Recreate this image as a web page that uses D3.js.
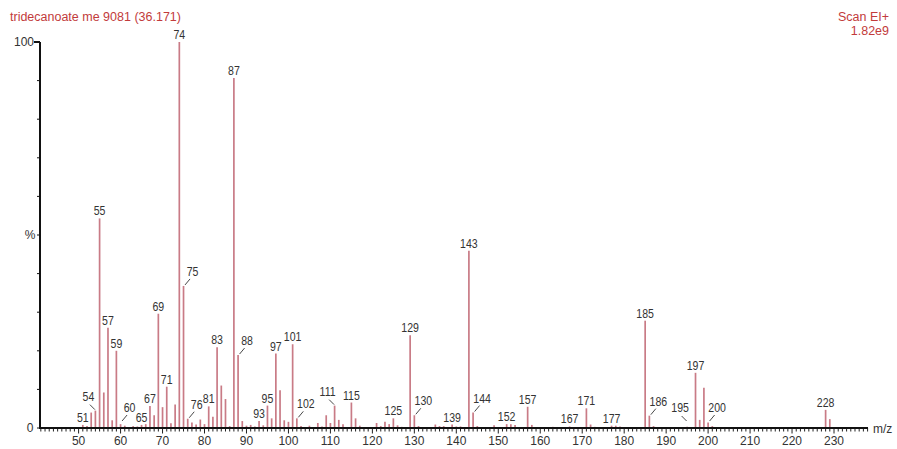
<!DOCTYPE html>
<html>
<head>
<meta charset="utf-8">
<script src="https://cdn.jsdelivr.net/npm/d3@7"></script>
<style>
  body { margin: 0; background: white; }
  svg { display: block; font-family: "Liberation Sans", Arial, sans-serif; }
</style>
</head>
<body>
<div id="chart"></div>
<script>
// spectrum: m/z and relative intensity (%)
const mz = [51, 52, 53, 54, 55, 56, 57, 58, 59, 60, 61, 63, 64, 65, 66, 67, 68, 69, 70, 71,
  72, 73, 74, 75, 76, 77, 78, 79, 80, 81, 82, 83, 84, 85, 86, 87, 88, 89, 90, 91,
  92, 93, 94, 95, 96, 97, 98, 99, 100, 101, 102, 103, 105, 107, 108, 109, 110, 111, 112, 113,
  115, 116, 117, 121, 122, 123, 124, 125, 126, 127, 129, 130, 131, 135, 136, 137, 139, 140, 141, 143,
  144, 145, 149, 152, 153, 154, 157, 158, 163, 167, 171, 172, 173, 177, 178, 179, 185, 186, 187, 195,
  197, 198, 199, 200, 201, 228, 229];
const intensity = [0.8, 0.5, 4.0, 4.5, 54.3, 9.2, 26.0, 2.0, 20.0, 1.0, 0.6, 0.5, 0.4, 0.8, 1.0, 5.7, 3.3, 29.6, 5.4, 10.7,
  1.2, 6.1, 100, 36.8, 2.4, 1.4, 0.9, 2.2, 1.0, 5.6, 2.9, 20.9, 11.0, 7.5, 0.5, 90.7, 18.9, 1.8, 0.6, 0.8,
  0.4, 1.8, 0.7, 5.8, 2.5, 19.3, 9.8, 2.0, 1.6, 21.7, 2.5, 0.5, 0.6, 1.3, 0.4, 3.3, 1.3, 5.8, 2.1, 1.0,
  6.6, 2.5, 0.6, 1.3, 0.5, 1.6, 1.0, 2.5, 0.7, 0.3, 24.0, 3.3, 0.5, 0.9, 0.5, 0.5, 0.9, 0.4, 0.4, 45.9,
  4.0, 0.5, 0.7, 1.0, 1.0, 0.8, 5.5, 0.8, 0.3, 0.4, 5.1, 0.9, 0.3, 0.6, 0.6, 0.4, 27.8, 3.2, 0.5, 0.3,
  14.3, 2.1, 10.4, 1.4, 0.5, 4.7, 2.3];

// peaks that carry a label, and which of them use a leader line
const labelled = [51, 54, 55, 57, 59, 60, 65, 67, 69, 71, 74, 75, 76, 81, 83, 87, 88, 93, 95, 97,
  101, 102, 111, 115, 125, 129, 130, 139, 143, 144, 152, 157, 167, 171, 177, 185, 186, 195, 197, 200, 228];
const leaderRight = [60, 75, 76, 88, 102, 130, 144, 186, 200];
const leaderLeft = [54, 111, 195];

const xTicks = d3.range(50, 231, 10);
const yTicks = d3.range(0, 101, 10);

const title = "tridecanoate me 9081 (36.171)";
const scanText = ["Scan EI+", "1.82e9"];

const width = 897, height = 449;
const peakColor = "#c97b86";
const redText = "#c23b3b";
const squeeze = 0.88;

const svg = d3.select("#chart").append("svg")
  .attr("width", width)
  .attr("height", height);

const x = d3.scaleLinear().domain([40.8, 238.1]).range([40, 868]);
const y = d3.scaleLinear().domain([0, 100]).range([428, 42]);

const peaks = mz.map((m, i) => ({ mz: m, value: intensity[i] }));
const byMz = new Map(peaks.map(d => [d.mz, d.value]));

// header texts
svg.append("text")
  .attr("x", 10).attr("y", 21)
  .attr("fill", redText)
  .attr("font-size", 12.5)
  .text(title);

svg.selectAll(".scan")
  .data(scanText)
  .enter()
  .append("text")
  .attr("x", 889)
  .attr("y", (d, i) => 21 + i * 14)
  .attr("text-anchor", "end")
  .attr("fill", redText)
  .attr("font-size", 12.5)
  .text(d => d);

// peaks
svg.append("g")
  .selectAll("line")
  .data(peaks)
  .enter()
  .append("line")
  .attr("x1", d => x(d.mz))
  .attr("x2", d => x(d.mz))
  .attr("y1", y(0))
  .attr("y2", d => y(d.value))
  .attr("stroke", peakColor)
  .attr("stroke-width", 1.7);

// x axis
const xAxis = svg.append("g").attr("transform", "translate(0," + y(0) + ")");
xAxis.selectAll(".minor")
  .data(d3.range(41, 239))
  .enter()
  .append("line")
  .attr("x1", d => x(d)).attr("x2", d => x(d))
  .attr("y1", 0)
  .attr("y2", d => d % 10 === 0 ? 5.5 : 3.5)
  .attr("stroke", "#222")
  .attr("stroke-width", 1);
xAxis.append("line")
  .attr("x1", 40).attr("x2", 868)
  .attr("stroke", "#111")
  .attr("stroke-width", 2);
xAxis.selectAll(".tl")
  .data(xTicks)
  .enter()
  .append("text")
  .attr("x", d => x(d))
  .attr("y", 17)
  .attr("text-anchor", "middle")
  .attr("font-size", 12)
  .attr("fill", "#333")
  .text(d => d);
xAxis.append("text")
  .attr("x", 873).attr("y", 5)
  .attr("font-size", 12)
  .attr("fill", "#333")
  .text("m/z");

// y axis
const yAxis = svg.append("g").attr("transform", "translate(40,0)");
yAxis.append("line")
  .attr("y1", y(100)).attr("y2", y(0) + 1)
  .attr("stroke", "#111")
  .attr("stroke-width", 2);
yAxis.selectAll(".yt")
  .data(yTicks)
  .enter()
  .append("line")
  .attr("x1", d => d === 100 ? -6 : -3)
  .attr("x2", 0)
  .attr("y1", d => y(d)).attr("y2", d => y(d))
  .attr("stroke", "#111")
  .attr("stroke-width", d => d === 100 ? 2 : 1);
yAxis.append("text")
  .attr("x", -6).attr("y", y(100) + 4)
  .attr("text-anchor", "end")
  .attr("font-size", 12).attr("fill", "#333")
  .text("100");
yAxis.append("text")
  .attr("x", -10).attr("y", y(50) + 4)
  .attr("text-anchor", "middle")
  .attr("font-size", 12).attr("fill", "#333")
  .text("%");
yAxis.append("text")
  .attr("x", -10).attr("y", y(0) + 4)
  .attr("text-anchor", "middle")
  .attr("font-size", 12).attr("fill", "#333")
  .text("0");

// peak labels
const labels = labelled.map(m => {
  const px = x(m), top = y(byMz.get(m));
  if (leaderRight.includes(m)) {
    const ey = Math.min(top - 1, 421);
    return { mz: m, tx: px + 9, ty: ey - 9, leader: [px + 1.5, ey, px + 6.5, ey - 6] };
  }
  if (leaderLeft.includes(m)) {
    const ey = Math.min(top - 1, 421);
    return { mz: m, tx: px - 7, ty: ey - 9, leader: [px - 0.5, ey, px - 5.5, ey - 5] };
  }
  return { mz: m, tx: px, ty: top - 3, leader: null };
});

const lg = svg.append("g");
lg.selectAll("line")
  .data(labels.filter(d => d.leader))
  .enter()
  .append("line")
  .attr("x1", d => d.leader[0]).attr("y1", d => d.leader[1])
  .attr("x2", d => d.leader[2]).attr("y2", d => d.leader[3])
  .attr("stroke", "#333")
  .attr("stroke-width", 0.9);
lg.selectAll("text")
  .data(labels)
  .enter()
  .append("text")
  .attr("transform", d => "translate(" + d.tx + "," + d.ty + ") scale(" + squeeze + ",1)")
  .attr("text-anchor", "middle")
  .attr("font-size", 12)
  .attr("fill", "#333")
  .text(d => d.mz);
</script>
</body>
</html>
